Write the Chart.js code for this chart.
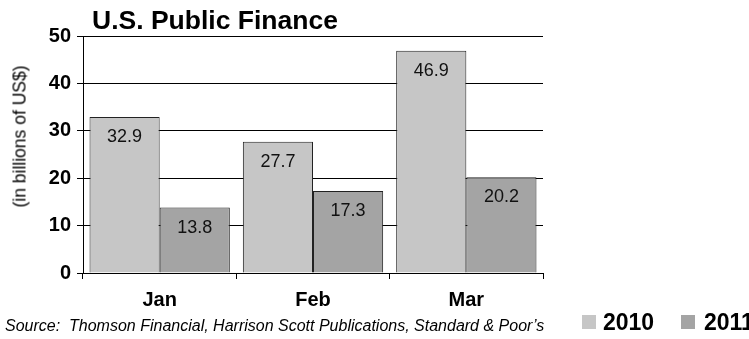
<!DOCTYPE html>
<html>
<head>
<meta charset="utf-8">
<script src="https://cdn.jsdelivr.net/npm/chart.js@4.4.1/dist/chart.umd.min.js"></script>
<style>
  body { margin: 0; background: #fff; font-family: Arial, "Liberation Sans", sans-serif; }
  #wrap { position: relative; width: 749px; height: 339px; overflow: hidden; }
  #chart { position: absolute; left: 0; top: 0; }
  .txt { position: absolute; white-space: nowrap; color: #000; }
  #title { left: 92px; top: 7px; font-size: 26.5px; line-height: 26px; font-weight: bold; }
  #ytitle { left: -80px; top: 128px; width: 200px; text-align: center; font-size: 17.5px; line-height: 17px; font-weight: normal; transform: rotate(-90deg); }
  #source { left: 5px; top: 318px; font-size: 16px; line-height: 16px; font-style: italic; }
  .sw { position: absolute; width: 14px; height: 14px; top: 315px; }
  .lg { top: 311px; font-size: 23px; line-height: 23px; font-weight: bold; }
</style>
</head>
<body>
<div id="wrap">
  <canvas id="chart" width="749" height="339"></canvas>
  <div class="txt" id="title">U.S. Public Finance</div>
  <div class="txt" id="ytitle">(in billions of US$)</div>
  <div class="txt" id="source">Source:&nbsp; Thomson Financial, Harrison Scott Publications, Standard &amp; Poor’s</div>
  <div id="legend"></div>
</div>
<script>
const months = ["Jan", "Feb", "Mar"];
const seriesNames = ["2010", "2011"];
const values2010 = [32.9, 27.7, 46.9];
const values2011 = [13.8, 17.3, 20.2];
const yTicks = [0, 10, 20, 30, 40, 50];
const colors = ["#c6c6c6", "#a4a4a4"];

// legend in html, next to the source line
const legendPos = [[582, 603], [681, 704]];
const legend = document.getElementById("legend");
seriesNames.forEach(function (name, i) {
  const sw = document.createElement("div");
  sw.className = "sw";
  sw.style.left = legendPos[i][0] + "px";
  sw.style.background = colors[i];
  legend.appendChild(sw);
  const t = document.createElement("div");
  t.className = "txt lg";
  t.style.left = legendPos[i][1] + "px";
  t.textContent = name;
  legend.appendChild(t);
});

const barLabels = {
  id: "barLabels",
  afterDatasetsDraw(chart) {
    const ctx = chart.ctx;
    ctx.save();
    ctx.font = "18px Arial, 'Liberation Sans', sans-serif";
    ctx.fillStyle = "#111";
    ctx.textAlign = "center";
    ctx.textBaseline = "middle";
    chart.data.datasets.forEach(function (ds, i) {
      chart.getDatasetMeta(i).data.forEach(function (bar, j) {
        ctx.fillText(ds.data[j].toFixed(1), bar.x, bar.y + 20);
      });
    });
    ctx.restore();
  }
};

new Chart(document.getElementById("chart"), {
  type: "bar",
  data: {
    labels: months,
    datasets: [
      { label: seriesNames[0], data: values2010, backgroundColor: colors[0] },
      { label: seriesNames[1], data: values2011, backgroundColor: colors[1] }
    ]
  },
  options: {
    responsive: false,
    animation: false,
    layout: { padding: { left: 0, right: 206, top: 36, bottom: 20 } },
    datasets: {
      bar: {
        borderColor: "#222",
        borderWidth: 1,
        categoryPercentage: 0.915,
        barPercentage: 1.0
      }
    },
    plugins: {
      legend: { display: false },
      tooltip: { enabled: false },
      title: { display: false }
    },
    scales: {
      x: {
        afterFit: function (s) { s.height = 46; },
        grid: { drawOnChartArea: false, color: "#000", tickLength: 6 },
        border: { color: "#000" },
        ticks: {
          color: "#000",
          padding: 9,
          font: { family: "Arial, 'Liberation Sans', sans-serif", size: 20, weight: "bold" }
        }
      },
      y: {
        min: yTicks[0],
        max: yTicks[yTicks.length - 1],
        afterFit: function (s) { s.width = 83; },
        afterBuildTicks: function (s) { s.ticks = yTicks.map(function (v) { return { value: v }; }); },
        grid: { color: "#000", tickLength: 6 },
        border: { color: "#000" },
        ticks: {
          color: "#000",
          padding: 6,
          font: { family: "Arial, 'Liberation Sans', sans-serif", size: 20, weight: "bold" }
        }
      }
    }
  },
  plugins: [barLabels]
});
</script>
</body>
</html>
